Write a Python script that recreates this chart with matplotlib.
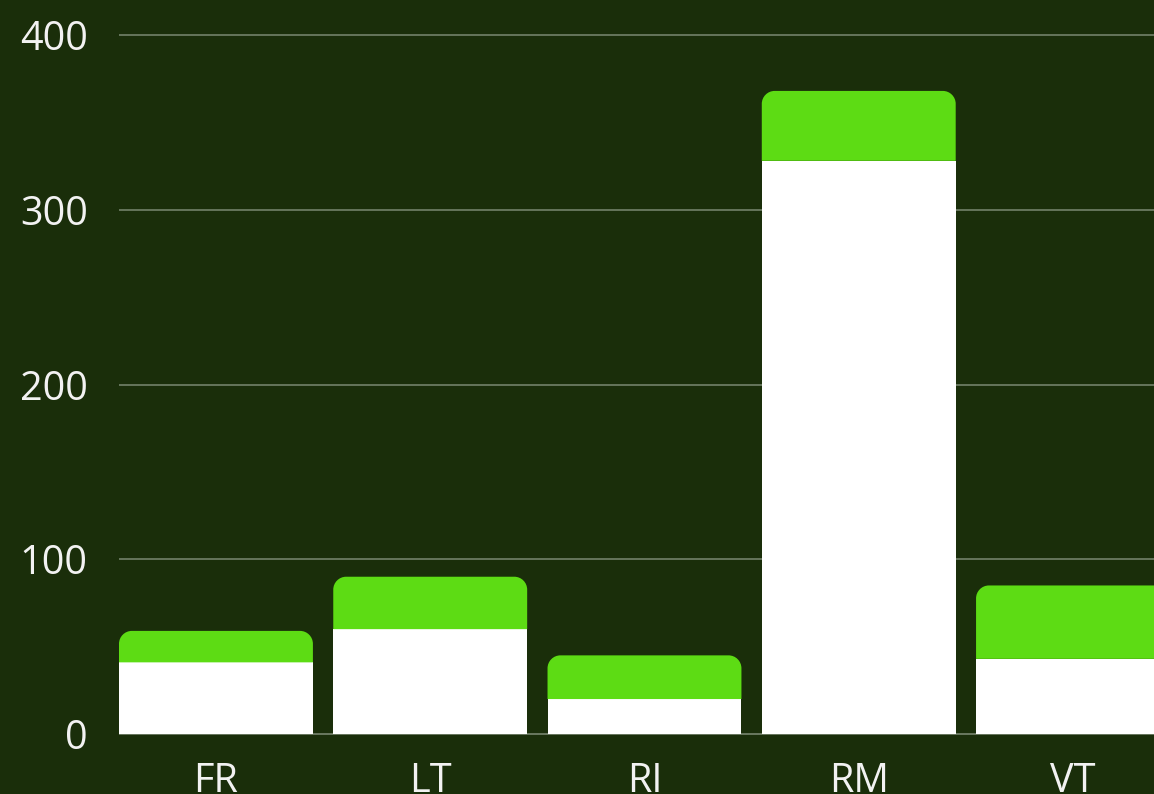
import numpy as np
import matplotlib.pyplot as plt
from matplotlib.path import Path
from matplotlib.patches import PathPatch

# data
states = ["FR", "LT", "RI", "RM", "VT"]
base_vals = [41, 60, 20, 328, 43]
top_vals = [18, 30, 25, 40, 42]
y_ticks = [0, 100, 200, 300, 400]

BG = "#1a2e0a"
GREEN = "#5ddc14"
WHITE = "#ffffff"
GRID = "#66755c"
TEXT = "#f2f2f2"

plt.rcParams["font.family"] = ["Open Sans", "DejaVu Sans"]


def rounded_top(x0, x1, y0, y1, rx, ry):
    # rectangle with rounded top corners, data coords
    k = 0.5523
    verts = [
        (x0, y0), (x0, y1 - ry),
        (x0, y1 - ry + k * ry), (x0 + rx - k * rx, y1), (x0 + rx, y1),
        (x1 - rx, y1),
        (x1 - rx + k * rx, y1), (x1, y1 - ry + k * ry), (x1, y1 - ry),
        (x1, y0), (x0, y0),
    ]
    codes = [Path.MOVETO, Path.LINETO,
             Path.CURVE4, Path.CURVE4, Path.CURVE4,
             Path.LINETO,
             Path.CURVE4, Path.CURVE4, Path.CURVE4,
             Path.LINETO, Path.CLOSEPOLY]
    return Path(verts, codes)


fig = plt.figure(figsize=(11.54, 7.94), dpi=100)
fig.patch.set_facecolor(BG)

ymin, ymax = -3, 410
bottom_px = 734 + 3 * 1.7475
top_px = 734 - 410 * 1.7475
ax = fig.add_axes([119 / 1154, (794 - bottom_px) / 794, 1 - 119 / 1154,
                   (bottom_px - top_px) / 794])
ax.set_facecolor(BG)

x = np.arange(len(states))
width = 0.905
ax.bar(x, base_vals, width=width, color=WHITE, zorder=3)

rx, ry = 0.06, 7.4
for xi, b, t in zip(x, base_vals, top_vals):
    p = rounded_top(xi - width / 2, xi + width / 2, b, b + t, rx, ry)
    ax.add_patch(PathPatch(p, facecolor=GREEN, edgecolor="none", zorder=3))

ax.set_xlim(-0.4525, 4.378)
ax.set_ylim(ymin, ymax)
ax.set_xticks(x)
ax.set_xticklabels(states)
ax.set_yticks(y_ticks)

ax.grid(axis="y", color=GRID, linewidth=1.4, zorder=0)
ax.axhline(0, color="#a3aa9c", linewidth=1.4, zorder=1)
for s in ax.spines.values():
    s.set_visible(False)
ax.tick_params(axis="both", length=0, colors=TEXT, labelsize=28.5)
ax.tick_params(axis="y", pad=22.5)
ax.tick_params(axis="x", pad=16)

fig.savefig("out.png", dpi=100, facecolor=BG)
